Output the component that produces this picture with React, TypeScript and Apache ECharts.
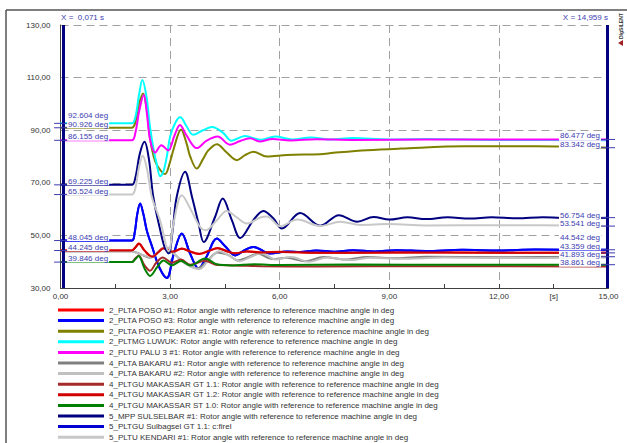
import React, { useEffect, useRef } from "react";
import * as echarts from "echarts";

// ---------- DATA ----------
const seriesNames = [
  "2_PLTA POSO #1: Rotor angle with reference to reference machine angle in deg",
  "2_PLTA POSO #3: Rotor angle with reference to reference machine angle in deg",
  "2_PLTA POSO PEAKER #1: Rotor angle with reference to reference machine angle in deg",
  "2_PLTMG LUWUK: Rotor angle with reference to reference machine angle in deg",
  "2_PLTU PALU 3 #1: Rotor angle with reference to reference machine angle in deg",
  "4_PLTA BAKARU #1: Rotor angle with reference to reference machine angle in deg",
  "4_PLTA BAKARU #2: Rotor angle with reference to reference machine angle in deg",
  "4_PLTGU MAKASSAR GT 1.1: Rotor angle with reference to reference machine angle in deg",
  "4_PLTGU MAKASSAR GT 1.2: Rotor angle with reference to reference machine angle in deg",
  "4_PLTGU MAKASSAR ST 1.0: Rotor angle with reference to reference machine angle in deg",
  "5_MPP SULSELBAR #1: Rotor angle with reference to reference machine angle in deg",
  "5_PLTGU Sulbagsel GT 1.1: c:firel",
  "5_PLTU KENDARI #1: Rotor angle with reference to reference machine angle in deg",
];

const poso1 = [[0,44.245],[1.95,44.24],[2.05,45.5],[2.14,46.9],[2.3,44.2],[2.5,41.8],[2.65,43.4],[2.82,45.2],[3.05,43.7],[3.32,45.0],[3.55,43.8],[3.8,42.9],[4.05,44.0],[4.3,45.2],[4.55,44.0],[4.78,43.1],[5.1,44.0],[5.5,43.5],[6.0,43.8],[7.0,43.4],[9.0,43.5],[12.0,43.4],[15.0,43.36]];
const poso3 = [[0,48.045],[1.95,48.04],[2.03,51.0],[2.1,58.0],[2.18,62.1],[2.27,58.0],[2.36,52.0],[2.5,46.0],[2.7,38.0],[2.91,33.8],[3.1,43.0],[3.32,50.7],[3.55,43.0],[3.78,37.4],[4.0,42.0],[4.28,48.8],[4.5,46.0],[4.78,42.4],[5.05,44.5],[5.28,45.6],[5.74,43.1],[6.2,43.9],[6.56,43.7],[7.0,44.3],[7.5,43.8],[8.0,44.4],[8.6,43.9],[9.2,44.4],[10.0,44.1],[11.0,44.5],[12.0,44.3],[13.0,44.6],[15.0,44.54]];
const peaker = [[0,90.926],[1.95,90.92],[2.05,93.0],[2.15,100.0],[2.26,104.0],[2.36,98.0],[2.45,87.0],[2.55,80.0],[2.65,76.5],[2.86,73.3],[3.0,78.0],[3.1,83.0],[3.3,90.3],[3.45,85.0],[3.55,80.0],[3.73,75.4],[3.9,79.0],[4.05,82.4],[4.28,84.7],[4.55,81.5],[4.83,78.6],[5.05,80.5],[5.28,81.8],[5.65,80.0],[6.2,80.6],[7.1,80.9],[7.47,81.4],[8.39,82.4],[9.3,83.0],[11.1,83.9],[13.0,83.9],[15.0,83.342]];
const luwuk = [[0,92.604],[1.95,92.6],[2.05,95.0],[2.15,103.5],[2.24,109.1],[2.35,103.0],[2.45,91.3],[2.55,82.5],[2.63,77.3],[2.73,72.5],[2.82,74.5],[2.91,80.0],[3.0,87.5],[3.15,93.0],[3.28,94.9],[3.45,91.5],[3.63,88.3],[3.9,90.0],[4.15,91.2],[4.45,89.0],[4.68,86.0],[5.05,87.8],[5.47,86.4],[5.88,87.6],[6.35,86.5],[6.85,87.2],[7.4,86.5],[8.0,87.0],[9.0,86.5],[10.0,86.7],[12.0,86.3],[15.0,86.2]];
const palu = [[0,86.155],[1.95,86.15],[2.05,89.0],[2.15,97.0],[2.28,103.4],[2.36,97.0],[2.45,86.5],[2.59,81.5],[2.76,84.3],[2.95,82.3],[3.12,88.0],[3.27,92.0],[3.45,88.0],[3.73,83.2],[4.0,86.0],[4.3,87.6],[4.64,84.5],[4.9,85.8],[5.19,86.9],[5.45,85.7],[5.8,86.7],[6.3,86.1],[7.0,86.6],[8.0,86.3],[10.0,86.5],[15.0,86.477]];
const bakaru1 = [[0,44.0],[1.95,44.0],[2.05,43.6],[2.2,42.8],[2.45,41.5],[2.65,43.5],[2.85,45.2],[3.1,43.0],[3.4,39.5],[3.75,37.5],[4.0,40.0],[4.3,43.5],[4.6,42.5],[4.85,40.5],[5.1,41.5],[5.4,43.0],[5.8,41.0],[6.2,41.5],[6.7,40.2],[7.2,41.8],[7.8,40.8],[8.4,41.8],[9.2,41.3],[10.0,41.9],[12.0,41.7],[15.0,41.893]];
const bakaru2 = [[0,43.9],[1.95,43.9],[2.05,43.5],[2.25,42.5],[2.5,41.6],[2.7,44.0],[2.9,45.5],[3.15,42.5],[3.45,39.0],[3.8,37.2],[4.05,40.5],[4.35,44.0],[4.65,42.0],[4.9,40.2],[5.2,41.8],[5.5,43.2],[5.9,40.8],[6.3,41.8],[6.8,40.0],[7.3,41.6],[7.9,40.6],[8.5,41.5],[9.3,41.1],[10.5,41.6],[12.0,41.4],[15.0,41.6]];
const gt11 = [[0,39.9],[1.95,39.9],[2.05,41.3],[2.14,42.3],[2.3,38.6],[2.45,36.6],[2.62,39.6],[2.8,41.6],[3.05,39.6],[3.3,40.8],[3.55,38.8],[3.95,40.4],[4.3,38.7],[4.8,38.6],[5.5,38.3],[7.0,38.2],[10.0,38.3],[15.0,38.2]];
const gt12 = [[0,44.245],[1.95,44.24],[2.05,45.4],[2.15,46.8],[2.3,44.3],[2.52,41.9],[2.67,43.5],[2.83,45.1],[3.06,43.8],[3.33,44.9],[3.56,43.9],[3.8,43.0],[4.05,44.1],[4.3,45.1],[4.55,44.0],[4.78,43.2],[5.1,43.9],[5.5,43.5],[6.0,43.7],[7.0,43.4],[9.0,43.5],[12.0,43.4],[15.0,43.359]];
const st10 = [[0,39.846],[1.95,39.85],[2.05,41.0],[2.14,42.2],[2.3,37.4],[2.45,34.6],[2.65,38.0],[2.82,40.5],[3.05,38.6],[3.3,40.3],[3.55,38.6],[3.96,41.2],[4.28,39.0],[4.7,38.6],[5.3,39.0],[6.0,38.7],[8.0,38.9],[11.0,38.8],[15.0,38.861]];
const mpp = [[0,69.225],[1.95,69.22],[2.05,72.0],[2.17,81.0],[2.3,85.6],[2.42,79.0],[2.54,64.6],[2.73,52.0],[2.85,45.5],[2.96,43.1],[3.07,52.0],[3.18,64.6],[3.41,74.2],[3.6,64.6],[3.78,54.5],[3.92,47.5],[4.23,57.0],[4.44,64.0],[4.69,55.8],[4.92,49.0],[5.28,55.8],[5.55,59.3],[5.83,56.4],[6.06,52.6],[6.56,58.5],[7.11,53.7],[7.62,57.7],[8.12,55.2],[8.57,57.0],[9.0,56.0],[9.5,56.9],[10.0,56.2],[10.6,56.9],[11.2,56.4],[11.8,56.9],[12.5,56.5],[13.2,56.9],[14.0,56.6],[15.0,56.754]];
const sulbagsel = [[0,48.045],[1.95,48.04],[2.03,51.0],[2.1,58.0],[2.18,62.1],[2.27,58.0],[2.36,52.0],[2.5,46.0],[2.7,38.0],[2.91,33.8],[3.1,43.0],[3.32,50.7],[3.55,43.0],[3.78,37.4],[4.0,42.0],[4.28,48.8],[4.5,46.0],[4.78,42.4],[5.05,44.5],[5.28,45.6],[5.74,43.1],[6.2,43.9],[6.56,43.7],[7.0,44.3],[7.5,43.8],[8.0,44.4],[8.6,43.9],[9.2,44.4],[10.0,44.1],[11.0,44.5],[12.0,44.3],[13.0,44.6],[15.0,44.542]];
const kendari = [[0,65.524],[1.95,65.52],[2.05,68.0],[2.15,76.0],[2.25,80.3],[2.37,75.0],[2.5,64.6],[2.73,55.5],[2.96,44.0],[3.1,55.0],[3.32,65.3],[3.6,58.9],[3.82,53.2],[3.97,52.0],[4.28,55.8],[4.55,59.3],[4.83,56.8],[5.1,54.5],[5.47,56.8],[5.65,57.2],[6.02,53.5],[6.48,56.0],[7.11,53.6],[7.66,55.2],[8.2,54.0],[9.0,54.3],[10.0,53.8],[12.0,53.9],[15.0,53.541]];

const seriesData = [poso1, poso3, peaker, luwuk, palu, bakaru1, bakaru2, gt11, gt12, st10, mpp, sulbagsel, kendari];

const cursorTimes = [0.071, 14.959];
const cursorTexts = ["X =  0,071 s", "X = 14,959 s"];
const leftLabelValues = [92.604, 90.926, 86.155, 69.225, 65.524, 48.045, 44.245, 39.846];
const rightLabelValues = [86.477, 83.342, 56.754, 53.541, 44.542, 43.359, 41.893, 38.861];

// ---------- STYLE ----------
const seriesColors = ["#ff0000", "#0000ff", "#808000", "#00ffff", "#ff00ff", "#808080", "#c0c0c0", "#a52a2a", "#d00000", "#008000", "#000080", "#0000d0", "#c8c8c8"];
const seriesZ = [2, 2, 2, 2, 2, 2, 2, 2, 2, 2, 2, 1, 2];
const leftShift = [-4, 0, 0, 0, 0, 0, 0, 0];
const rightShift = [0, 0, 1, 1, -8.5, -3, 1.5, 1.5];
const FONT = '"Liberation Sans", Arial, sans-serif';
const labelColor = "#3c3cb0";

const fmt = (v: number) => v.toFixed(2).replace(".", ",");

export default function App() {
  const ref = useRef<HTMLDivElement>(null);
  useEffect(() => {
    const chart = echarts.init(ref.current!, null, { renderer: "svg" });
    const option: any = {
      animation: false,
      backgroundColor: "#ffffff",
      grid: { left: 60.5, right: 18.5, top: 25, bottom: 155, containLabel: false },
      xAxis: [
        {
          type: "value", min: 0, max: 15, interval: 1.5,
          axisLine: { show: true, lineStyle: { color: "#404040", width: 1 } },
          axisTick: { show: true, inside: true, length: 4, lineStyle: { color: "#404040" } },
          axisLabel: {
            margin: 4, fontSize: 8, color: "#333", fontFamily: FONT,
            formatter: (v: number) => {
              if (Math.abs(v - 13.5) < 1e-6) return "[s]";
              if (Math.abs(v / 3 - Math.round(v / 3)) < 1e-6) return fmt(v);
              return "";
            },
          },
          splitLine: { show: false },
        },
        {
          type: "value", min: 0, max: 15, interval: 3, position: "bottom",
          axisLine: { show: false }, axisTick: { show: false }, axisLabel: { show: false },
          splitLine: { show: true, lineStyle: { color: "#a0a0a0", type: [8, 5], width: 1 } },
        },
      ],
      yAxis: {
        type: "value", min: 30, max: 130, interval: 20,
        axisLine: { show: true, lineStyle: { color: "#404040" } },
        axisTick: { show: false },
        axisLabel: { margin: 10, fontSize: 8, color: "#333", fontFamily: FONT, formatter: (v: number) => fmt(v) },
        splitLine: { show: true, lineStyle: { color: "#a0a0a0", type: [8, 5], width: 1 } },
      },
      legend: {
        orient: "vertical", left: 58, top: 305, padding: 0,
        itemWidth: 46, itemHeight: 3, itemGap: 0.6, icon: "rect",
        selectedMode: false,
        itemStyle: { borderWidth: 0 },
        textStyle: { fontSize: 8, lineHeight: 10, color: "#333", fontFamily: FONT },
        data: seriesNames,
      },
      series: seriesNames.map((name, i) => ({
        name, type: "line", xAxisIndex: 0, yAxisIndex: 0, z: seriesZ[i],
        data: seriesData[i], showSymbol: false, smooth: 0.35,
        color: seriesColors[i],
        lineStyle: { width: 2, color: seriesColors[i] },
        emphasis: { disabled: true },
        markLine: i === seriesNames.length - 1 ? {
          silent: true, symbol: ["none", "none"], label: { show: false },
          lineStyle: { color: "#000080", width: 3, type: "solid" },
          data: cursorTimes.map((t) => ({ xAxis: t })),
        } : undefined,
      })),
    };
    chart.setOption(option);

    const p = (t: number, v: number) => chart.convertToPixel({ seriesIndex: 0 }, [t, v]) as number[];
    const els: any[] = [];
    const textStyle = (text: string, align: string) => ({
      text, fill: labelColor, font: `8px ${FONT}`,
      align, textAlign: align, verticalAlign: "bottom", textVerticalAlign: "bottom",
      backgroundColor: "#ffffff", padding: [0, 1, 0, 1],
    });
    leftLabelValues.forEach((v, i) => {
      const [x, y] = p(cursorTimes[0], v);
      els.push({ type: "line", z: 100, shape: { x1: x - 9, y1: y, x2: x + 6, y2: y }, style: { stroke: labelColor, lineWidth: 1 } });
      els.push({ type: "text", z: 101, x: x + 4, y: y + 0.5 + leftShift[i], style: textStyle(v.toFixed(3) + " deg", "left") });
    });
    rightLabelValues.forEach((v, i) => {
      const [x, y] = p(cursorTimes[1], v);
      els.push({ type: "line", z: 100, shape: { x1: x - 7, y1: y, x2: x + 8, y2: y }, style: { stroke: labelColor, lineWidth: 1 } });
      els.push({ type: "text", z: 101, x: x - 6, y: y + 0.5 + rightShift[i], style: textStyle(v.toFixed(3) + " deg", "right") });
    });
    cursorTimes.forEach((t, i) => {
      const [x, y] = p(t, 130);
      els.push({
        type: "text", z: 101, x: i === 0 ? x - 2 : x + 1, y: y - 4,
        style: { text: cursorTexts[i], fill: labelColor, font: `8px ${FONT}`, align: i === 0 ? "left" : "right", textAlign: i === 0 ? "left" : "right", verticalAlign: "bottom", textVerticalAlign: "bottom" },
      });
    });
    // outer frame and logo
    els.push({ type: "line", z: 100, shape: { x1: 6, y1: 10, x2: 627, y2: 10 }, style: { stroke: "#555", lineWidth: 1.5 } });
    els.push({ type: "line", z: 100, shape: { x1: 6, y1: 10, x2: 6, y2: 443 }, style: { stroke: "#555", lineWidth: 1.5 } });
    els.push({ type: "text", z: 101, x: 621, y: 39, rotation: Math.PI / 2, style: { text: "DIgSILENT", fill: "#333", font: `bold 5px ${FONT}`, align: "left", textAlign: "left", verticalAlign: "middle", textVerticalAlign: "middle" } });
    els.push({ type: "polygon", z: 101, shape: { points: [[618, 43], [623, 40], [623, 46]] }, style: { fill: "#a02020" } });
    chart.setOption({ graphic: els });

    return () => chart.dispose();
  }, []);
  return <div ref={ref} style={{ position: "absolute", left: 0, top: 0, width: 627, height: 443, background: "#fff" }} />;
}
